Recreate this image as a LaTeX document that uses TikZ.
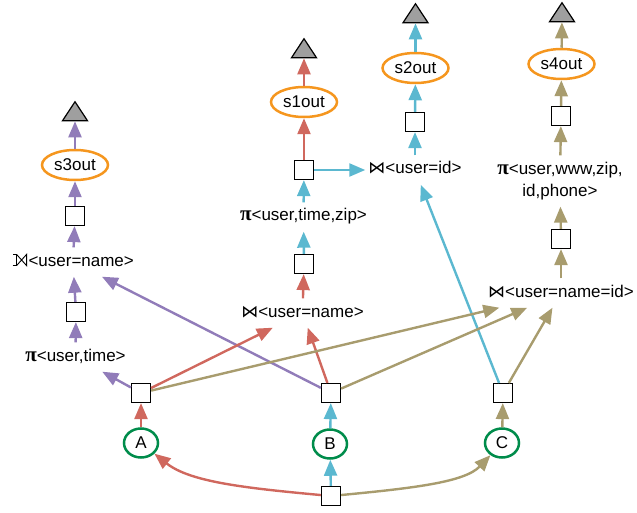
\documentclass[tikz,border=0pt]{standalone}
\usepackage{fontspec}
\setmainfont{Liberation Sans}
\newfontfamily\symfont{DejaVu Sans}
\newfontfamily\pifont{Liberation Serif}
\usetikzlibrary{arrows.meta,shapes.geometric}
\definecolor{cred}{RGB}{208,104,94}
\definecolor{cblue}{RGB}{91,184,208}
\definecolor{cpurp}{RGB}{145,124,185}
\definecolor{colive}{RGB}{168,156,110}
\definecolor{cgreen}{RGB}{0,140,75}
\definecolor{corange}{RGB}{245,150,30}
\newcommand{\pisym}{{\pifont\bfseries\fontsize{21}{22}\selectfont π}}
\newcommand{\joinsym}{{\symfont ⋈}}
\newcommand{\lojsym}{\tikz[baseline=0pt, x=1pt, y=1pt, line width=0.9pt, line join=miter]{\draw (0,0.4)--(4,0.4)--(4,11.6)--(0,11.6); \draw (4,0.4)--(14,11.6)--(14,0.4)--(4,11.6);}\hspace{1.5pt}}
\tikzset{
  txt/.style={font=\fontsize{17}{22}\selectfont},
  box/.style={draw=black, line width=1.2pt, minimum width=19pt, minimum height=19pt, inner sep=0pt},
  src/.style={txt, ellipse, draw=cgreen, line width=2.5pt, minimum width=34pt, minimum height=29pt, inner sep=0pt},
  sink/.style={txt, ellipse, draw=corange, line width=2.5pt, minimum width=66pt, minimum height=30pt, inner sep=0pt},
  op/.style={txt, inner xsep=3pt, inner ysep=6.5pt, text height=12pt, text depth=4pt},
  optwo/.style={txt, inner xsep=3pt, inner ysep=6.5pt, align=center},
  tri/.style={draw=black, fill=gray!75, line width=1.2pt, isosceles triangle, shape border rotate=90, isosceles triangle stretches, minimum width=25pt, minimum height=19pt, inner sep=0pt},
  e/.style={line width=2.4pt, -{Triangle[length=16pt,width=13pt]}},
  er/.style={e, draw=cred},
  eb/.style={e, draw=cblue},
  ep/.style={e, draw=cpurp},
  eo/.style={e, draw=colive},
}
\begin{document}
\begin{tikzpicture}[x=1pt,y=-1pt]
\useasboundingbox (0,0) rectangle (637,513);
% nodes
\node[box] (bot) at (331,496) {};
\node[src] (A) at (141,443) {A};
\node[src] (B) at (330,444) {B};
\node[src] (C) at (502,443) {C};
\node[box] (aA) at (141,393) {};
\node[box] (aB) at (331,393) {};
\node[box] (aC) at (503,393) {};
\node[op] (pit) at (75.5,357) {\pisym<user,time>};
\node[box] (bpit) at (76,312) {};
\node[op] (lsj) at (73,262) {\lojsym<user=name>};
\node[box] (bs3) at (75,216) {};
\node[sink] (s3) at (75,165) {s3out};
\node[tri] (t3) at (75,114) {};
\node[op] (mj) at (302.5,313) {\joinsym<user=name>};
\node[box] (bmj) at (304,264) {};
\node[op] (pitz) at (303.5,217) {\pisym<user,time,zip>};
\node[box] (bs1) at (304,170) {};
\node[sink] (s1) at (304,102) {s1out};
\node[tri] (t1) at (304,51) {};
\node[op] (jid) at (415,170) {\joinsym<user=id>};
\node[box] (bs2) at (415,122) {};
\node[sink] (s2) at (415.5,68) {s2out};
\node[tri] (t2) at (415.5,16) {};
\node[op] (nni) at (561,293) {\joinsym<user=name=id>};
\node[box] (bpiw) at (561,239) {};
\node[optwo] (piw) at (560,181) {\pisym<user,www,zip,\\id,phone>};
\node[box] (bs4) at (561,116) {};
\node[sink] (s4) at (561.5,64) {s4out};
\node[tri] (t4) at (562,15) {};
% bottom
\draw[er] (bot) .. controls (245,488) and (190,482) .. (A);
\draw[eo] (bot) .. controls (415,488) and (465,482) .. (C);
\draw[eb] (bot) -- (B);
\draw[er] (A) -- (aA);
\draw[eb] (B) -- (aB);
\draw[eo] (C) -- (aC);
% purple
\draw[ep] (aA) -- (pit);
\draw[ep] (pit) -- (bpit);
\draw[ep] (bpit) -- (lsj);
\draw[ep] (aB) -- (lsj);
\draw[ep] (lsj) -- (bs3);
\draw[ep] (bs3) -- (s3);
\draw[ep] (s3) -- (t3);
% red / blue middle
\draw[er] (aA) -- (mj);
\draw[er] (aB) -- (mj);
\draw[er] (mj) -- (bmj);
\draw[eb] (bmj) -- (pitz);
\draw[eb] (pitz) -- (bs1);
\draw[er] (bs1) -- (s1);
\draw[er] (s1) -- (t1);
\draw[eb] (bs1) -- (jid);
\draw[eb] (aC) -- (jid);
\draw[eb] (jid) -- (bs2);
\draw[eb] (bs2) -- (s2);
\draw[eb] (s2) -- (t2);
% olive
\draw[eo] (aA) -- (nni);
\draw[eo] (aB) -- (nni);
\draw[eo] (aC) -- (nni);
\draw[eo] (nni) -- (bpiw);
\draw[eo] (bpiw) -- (piw);
\draw[eo] (piw) -- (bs4);
\draw[eo] (bs4) -- (s4);
\draw[eo] (s4) -- (t4);
\end{tikzpicture}
\end{document}
